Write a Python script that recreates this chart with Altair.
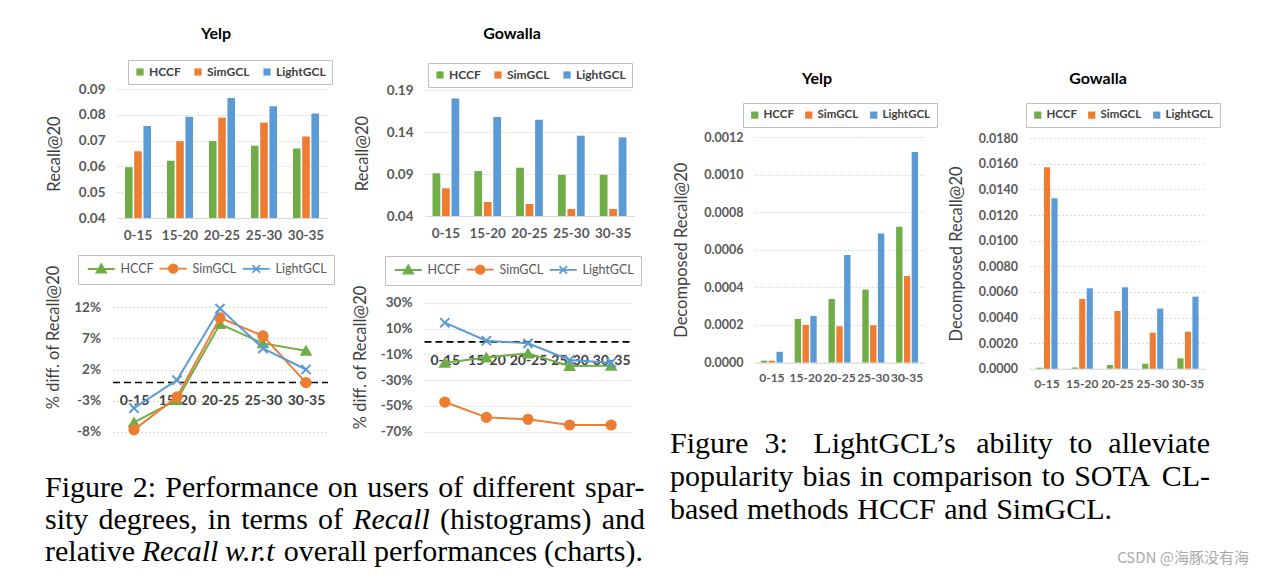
import altair as alt
import pandas as pd

# ---------------- data ----------------
cats = ["0-15", "15-20", "20-25", "25-30", "30-35"]
methods = ["HCCF", "SimGCL", "LightGCL"]
colors = ["#70AD47", "#ED7D31", "#5B9BD5"]

yelp_recall_hccf = [0.0597, 0.0622, 0.0698, 0.0680, 0.0669]
yelp_recall_simgcl = [0.0659, 0.0698, 0.0789, 0.0770, 0.0716]
yelp_recall_lightgcl = [0.0757, 0.0792, 0.0865, 0.0833, 0.0805]
yelp_recall_ticks = [0.04, 0.05, 0.06, 0.07, 0.08, 0.09]

gowalla_recall_hccf = [0.0908, 0.0935, 0.0975, 0.0890, 0.0890]
gowalla_recall_simgcl = [0.0730, 0.0567, 0.0543, 0.0483, 0.0483]
gowalla_recall_lightgcl = [0.1800, 0.1580, 0.1546, 0.1356, 0.1336]
gowalla_recall_ticks = [0.04, 0.09, 0.14, 0.19]

yelp_diff_hccf = [-6.5, -2.9, 9.3, 6.2, 5.0]
yelp_diff_simgcl = [-7.7, -2.4, 10.3, 7.4, -0.1]
yelp_diff_lightgcl = [-4.2, 0.3, 11.8, 5.4, 2.0]
yelp_diff_ticks = [-8, -3, 2, 7, 12]

gowalla_diff_hccf = [-16.5, -12.4, -9.3, -19.1, -18.9]
gowalla_diff_simgcl = [-47.0, -58.9, -60.4, -64.8, -64.8]
gowalla_diff_lightgcl = [14.5, 0.5, -1.5, -14.4, -16.5]
gowalla_diff_ticks = [-70, -50, -30, -10, 10, 30]

yelp_decomp_hccf = [0.00001, 0.000232, 0.000338, 0.000388, 0.000722]
yelp_decomp_simgcl = [0.00001, 0.000200, 0.000193, 0.000198, 0.000460]
yelp_decomp_lightgcl = [0.000057, 0.000248, 0.000572, 0.000687, 0.001120]
yelp_decomp_ticks = [0.0, 0.0002, 0.0004, 0.0006, 0.0008, 0.0010, 0.0012]

gowalla_decomp_hccf = [0.00008, 0.00010, 0.00029, 0.00039, 0.00081]
gowalla_decomp_simgcl = [0.01573, 0.00545, 0.00451, 0.00281, 0.00289]
gowalla_decomp_lightgcl = [0.01331, 0.00628, 0.00636, 0.00469, 0.00563]
gowalla_decomp_ticks = [0.0, 0.002, 0.004, 0.006, 0.008, 0.010, 0.012, 0.014, 0.016, 0.018]

panel_titles = ["Yelp", "Gowalla", "Yelp", "Gowalla"]
recall_title = "Recall@20"
diff_title = "% diff. of Recall@20"
decomp_title = "Decomposed Recall@20"

# caption words, one list per printed line; italic words listed separately
fig2_line1 = ["Figure", "2:", "Performance", "on", "users", "of", "different", "spar-"]
fig2_line2 = ["sity", "degrees,", "in", "terms", "of", "Recall", "(histograms)", "and"]
fig2_line3 = ["relative", "Recall", "w.r.t", "overall", "performances", "(charts)."]
fig3_line1 = ["Figure", "3:", "LightGCL\u2019s", "ability", "to", "alleviate"]
fig3_line2 = ["popularity", "bias", "in", "comparison", "to", "SOTA", "CL-"]
fig3_line3 = ["based", "methods", "HCCF", "and", "SimGCL."]
italic_words = {(1, 5), (2, 1), (2, 2)}  # (line index, word index) in Figure 2 caption
watermark = "CSDN @\u6d77\u8c5a\u6ca1\u6709\u6d77"

# ---------------- layout ----------------
W, H = 1250, 562
M = 8  # page margin: reference pixel -> chart pixel
AXF = "Lato"
LABEL_C = "#595959"


def to_long(series_lists):
    rows = []
    for m, vals in zip(methods, series_lists):
        for c, v in zip(cats, vals):
            rows.append({"cat": c, "series": m, "value": v})
    return pd.DataFrame(rows)


def ypix(v, dom, yr):
    return yr[0] + (v - dom[0]) / (dom[1] - dom[0]) * (yr[1] - yr[0])


def y_axis(ticks, xr0, fmt=None, label_expr=None, tick_fs=13.5, lab_pad=12, title_pad=14, title_y=None):
    kw = dict(orient="left", offset=-xr0, values=ticks, grid=True, gridColor="#d9d9d9",
              gridDash=[2, 2], domain=False, ticks=False, labelFont=AXF, labelFontWeight="bold",
              labelFontSize=tick_fs, labelColor=LABEL_C, labelPadding=lab_pad,
              titleFont=AXF, titleFontWeight="normal", titleFontSize=16.5, titleColor="#404040",
              titlePadding=title_pad)
    if fmt:
        kw["format"] = fmt
    if label_expr:
        kw["labelExpr"] = label_expr
    if title_y is not None:
        kw["titleY"] = title_y
    return alt.Axis(**kw)


def bar_panel(values, xr, yr, dom, ticks, fmt, leg_xy, pad_in, tick_fs, xlab_fs, leg_fs, leg_colpad,
              ytitle, title_pad):
    df = to_long(values)
    xr = [xr[0] - M, xr[1] - M]
    yr = [yr[0] - M, yr[1] - M]
    x = alt.X("cat:N", sort=cats, title=None,
              scale=alt.Scale(range=xr, paddingInner=pad_in, paddingOuter=pad_in / 2),
              axis=alt.Axis(orient="bottom", offset=-(H - yr[0]), labelAngle=0, ticks=False,
                            domainColor="#d9d9d9", domainWidth=1, labelFont=AXF, labelFontWeight="bold",
                            labelFontSize=xlab_fs, labelColor=LABEL_C, labelPadding=10,
                            labelOverlap=False, grid=False))
    y = alt.Y("value:Q", title=ytitle,
              scale=alt.Scale(domain=list(dom), range=yr, zero=False, nice=False),
              axis=y_axis(ticks, xr[0], fmt=fmt, tick_fs=tick_fs, title_pad=title_pad))
    leg = alt.Legend(orient="none", legendX=leg_xy[0] - M, legendY=leg_xy[1] - M, direction="horizontal",
                     title=None, strokeColor="#bfbfbf", fillColor="white", padding=6,
                     symbolType="square", symbolSize=52, symbolStrokeWidth=0,
                     labelFont=AXF, labelFontWeight="bold", labelFontSize=leg_fs, labelColor="#404040",
                     labelOffset=3, columnPadding=leg_colpad)
    return alt.Chart(df).mark_bar().encode(
        x=x,
        xOffset=alt.XOffset("series:N", sort=methods, scale=alt.Scale(paddingInner=0.18)),
        y=y,
        y2=alt.datum(dom[0]),
        color=alt.Color("series:N", sort=methods, scale=alt.Scale(domain=methods, range=colors), legend=leg),
    )


point_shapes = ["triangle-up", "circle", "M-1,-1L1,1M-1,1L1,-1"]
legend_paths = [
    "M-3,0L3,0M0,-1.05L1.05,0.8L-1.05,0.8Z",
    "M-3,0L3,0M0.95,0A0.95,0.95,0,1,1,-0.95,0A0.95,0.95,0,1,1,0.95,0Z",
    "M-3,0L3,0M-0.85,-0.85L0.85,0.85M-0.85,0.85L0.85,-0.85",
]


def line_panel(values, xr, yr, dom, ticks, leg_xy, title_center_y):
    df = to_long(values)
    xr = [xr[0] - M, xr[1] - M]
    yr = [yr[0] - M, yr[1] - M]
    zero_y = ypix(0, dom, yr)
    x = alt.X("cat:N", sort=cats, title=None,
              scale=alt.Scale(type="point", range=xr, padding=0.5),
              axis=alt.Axis(orient="bottom", offset=-(H - zero_y), labelAngle=0, ticks=False,
                            domainColor="black", domainWidth=1.6, domainDash=[7, 4],
                            labelFont=AXF, labelFontWeight="bold", labelFontSize=14,
                            labelColor="#404040", labelPadding=12, labelOverlap=False, grid=False))
    y = alt.Y("value:Q", title=diff_title,
              scale=alt.Scale(domain=list(dom), range=yr, zero=False, nice=False),
              axis=y_axis(ticks, xr[0], label_expr="datum.value + '%'", tick_fs=13.5, title_pad=12,
                          title_y=title_center_y - M))
    layers = []
    for m, c, s in zip(methods, colors, point_shapes):
        sub = alt.Chart(df).transform_filter(alt.datum.series == m)
        layers.append(sub.mark_line(color=c, strokeWidth=2).encode(x=x, y=y))
        layers.append(sub.mark_point(filled=True, color=c, stroke=c, strokeWidth=2, shape=s,
                                     size=85, opacity=1).encode(x=x, y=y))
    leg = alt.Legend(orient="none", legendX=leg_xy[0] - M, legendY=leg_xy[1] - M, direction="horizontal",
                     title=None, strokeColor="#bfbfbf", fillColor="white", padding=7,
                     symbolSize=81, symbolStrokeWidth=1.8, symbolOffset=10, labelOffset=13,
                     labelFont=AXF, labelFontWeight="normal", labelFontSize=12.5, labelColor="#595959",
                     columnPadding=2)
    leg_df = pd.DataFrame({"series": methods})
    layers.append(
        alt.Chart(leg_df).transform_filter("false").mark_point(filled=True, opacity=1).encode(
            color=alt.Color("series:N", scale=alt.Scale(domain=methods, range=colors), legend=leg),
            stroke=alt.Stroke("series:N", scale=alt.Scale(domain=methods, range=colors), legend=leg),
            shape=alt.Shape("series:N", scale=alt.Scale(domain=methods, range=legend_paths), legend=leg),
        )
    )
    return alt.layer(*layers)


def text(t, x, y, size, font, color="black", weight="normal", style="normal", align="left",
         baseline="alphabetic"):
    return alt.Chart(pd.DataFrame({"label": [t]})).mark_text(
        font=font, fontSize=size, color=color, fontWeight=weight, fontStyle=style,
        align=align, baseline=baseline,
    ).encode(text="label:N", x=alt.value(x - M), y=alt.value(y - M))


# Times / Liberation Serif advance widths (units per 1000 em), used to justify caption lines
TIMES = dict(zip(" (),-.:\u20190123456789",
                 [250, 333, 333, 250, 333, 250, 278, 333] + [500] * 10))
TIMES.update(dict(zip("ABCDEFGHIJKLMNOPQRSTUVWXYZ",
                      [722, 667, 667, 722, 611, 556, 722, 722, 333, 389, 722, 611, 889, 722, 722, 556,
                       722, 667, 556, 611, 722, 722, 944, 722, 722, 611])))
TIMES.update(dict(zip("abcdefghijklmnopqrstuvwxyz",
                      [444, 500, 444, 500, 444, 333, 500, 500, 278, 278, 500, 278, 778, 500, 500, 500,
                       500, 333, 389, 278, 500, 500, 722, 500, 500, 444])))
TIMES_IT = dict(TIMES)
TIMES_IT.update({"R": 611, "a": 500, "w": 667, "r": 389})

CS = 30


def word_w(w, italic):
    tab = TIMES_IT if italic else TIMES
    return sum(tab.get(ch, 500) for ch in w) * CS / 1000.0


def layout_line(words, x0, x1, ybase, italics, gap_weights=None):
    widths = [word_w(w, i) for w, i in zip(words, italics)]
    n_gaps = len(words) - 1
    gw = gap_weights or [1.0] * n_gaps
    unit = (x1 - x0 - sum(widths)) / sum(gw)
    rows, x = [], x0
    for k, (w, i, wd) in enumerate(zip(words, italics, widths)):
        rows.append({"word": w, "px": x - M, "py": ybase - M, "italic": i})
        if k < n_gaps:
            x += wd + unit * gw[k]
    return rows


fig2_lines = [fig2_line1, fig2_line2, fig2_line3]
fig2_gaps = [None, None, [1.0, 1.0, 0.55, 1.0, 1.0]]
rows = []
for li, (words, yb, x1, gw) in enumerate(zip(fig2_lines, [497, 529, 561], [645, 645, 643], fig2_gaps)):
    it = [(li, k) in italic_words for k in range(len(words))]
    rows += layout_line(words, 45, x1, yb, it, gw)
rows += layout_line(fig3_line1, 670, 1210, 453, [False] * 6, [1.0, 1.6, 1.0, 1.0, 1.0])
rows += layout_line(fig3_line2, 670, 1210, 486, [False] * 7)
rows += layout_line(fig3_line3, 670, 1112, 519, [False] * 5)
cap_df = pd.DataFrame(rows)


def caption_layer(italic):
    return alt.Chart(cap_df).transform_filter(alt.datum.italic == italic).mark_text(
        font="Liberation Serif", fontSize=CS, color="black", align="left", baseline="alphabetic",
        fontStyle="italic" if italic else "normal",
    ).encode(text="word:N", x=alt.X("px:Q", scale=None), y=alt.Y("py:Q", scale=None))


p1 = bar_panel([yelp_recall_hccf, yelp_recall_simgcl, yelp_recall_lightgcl],
               (117, 327), (218, 89), (0.04, 0.09), yelp_recall_ticks, ".2f", (128, 60),
               0.38, 13.5, 13.5, 12, 11, recall_title, 16)
p2 = bar_panel([gowalla_recall_hccf, gowalla_recall_simgcl, gowalla_recall_lightgcl],
               (425, 634), (216, 90), (0.04, 0.19), gowalla_recall_ticks, ".2f", (428, 63),
               0.36, 13.5, 13.5, 12, 11, recall_title, 16)
p3 = line_panel([yelp_diff_hccf, yelp_diff_simgcl, yelp_diff_lightgcl],
                (112.5, 327.5), (431.7, 307.3), (-8, 12), yelp_diff_ticks, (78, 255), 337)
p4 = line_panel([gowalla_diff_hccf, gowalla_diff_simgcl, gowalla_diff_lightgcl],
                (424, 632), (431.7, 302.7), (-70, 30), gowalla_diff_ticks, (385, 256), 357)
p5 = bar_panel([yelp_decomp_hccf, yelp_decomp_simgcl, yelp_decomp_lightgcl],
               (755, 924), (362.5, 137), (0.0, 0.0012), yelp_decomp_ticks, ".4f", (743, 103),
               0.35, 12.5, 12, 11.5, 9, decomp_title, 14)
p6 = bar_panel([gowalla_decomp_hccf, gowalla_decomp_simgcl, gowalla_decomp_lightgcl],
               (1029.4, 1205.6), (368.7, 138.3), (0.0, 0.018), gowalla_decomp_ticks, ".4f", (1026, 103),
               0.4, 12.5, 12, 11.5, 9, decomp_title, 14)

texts = [
    text(panel_titles[0], 216, 39, 16, AXF, weight="bold", align="center"),
    text(panel_titles[1], 512, 39, 16, AXF, weight="bold", align="center"),
    text(panel_titles[2], 817, 84, 16, AXF, weight="bold", align="center"),
    text(panel_titles[3], 1098, 84, 16, AXF, weight="bold", align="center"),
    caption_layer(False),
    caption_layer(True),
    text(watermark, 1249, 563, 15, "Noto Sans CJK SC", color="#aaaaaa", align="right"),
]

chart = alt.layer(p1, p2, p3, p4, p5, p6, *texts).resolve_scale(
    x="independent", y="independent", xOffset="independent",
    color="independent", stroke="independent", shape="independent",
).resolve_axis(
    x="independent", y="independent",
).resolve_legend(
    color="independent", stroke="independent", shape="independent",
).properties(
    width=W, height=H, padding=0, autosize=alt.AutoSizeParams(type="none"),
).configure_view(stroke=None)

chart.save("out.html", embed_options={"renderer": "svg", "actions": False})
